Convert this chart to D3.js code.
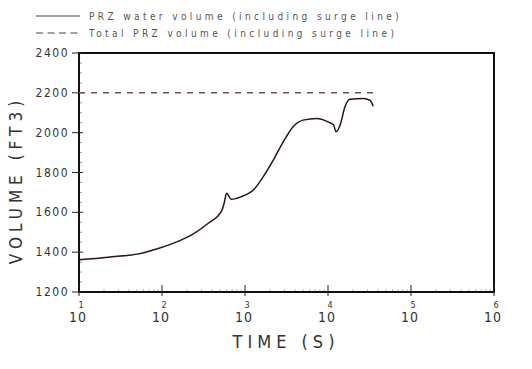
<!DOCTYPE html>
<html>
<head>
<meta charset="utf-8">
<script src="https://cdn.jsdelivr.net/npm/d3@7"></script>
<style>
  body { margin: 0; background: #fff; }
  svg { display: block; }
  text { font-family: "DejaVu Sans Condensed", "Liberation Sans Narrow", sans-serif; fill: #333; }
</style>
</head>
<body>
<figure id="chart" style="margin:0"></figure>
<script>
// PRZ water volume (solid)
const timeS = [10, 22.5, 57, 90, 143, 228, 361, 525, 560, 600, 680, 910, 1260, 1660, 2190, 2900, 3800, 5000, 7300, 10000, 11700, 12500, 14000, 16000, 18400, 26600, 32000, 35000];
const waterVol = [1362, 1375, 1395, 1418, 1448, 1487, 1545, 1609, 1645, 1696, 1666, 1679, 1712, 1779, 1862, 1955, 2030, 2063, 2071, 2054, 2038, 2004, 2038, 2130, 2168, 2171, 2163, 2133];
// total PRZ volume (dashed)
const totalTime = [10, 35000];
const totalVol = [2200, 2200];

const yTicks = [1200, 1400, 1600, 1800, 2000, 2200, 2400];
const xExps = [1, 2, 3, 4, 5, 6];
const legendLabels = ["PRZ water volume (including surge line)", "Total PRZ volume (including surge line)"];

const width = 532, height = 369;
const mLeft = 79, mRight = 494, mTop = 53, mBottom = 292;

const svg = d3.select("figure#chart")
  .append("svg")
  .attr("width", width)
  .attr("height", height);

const x = d3.scaleLog().domain([10, 1e6]).range([mLeft, mRight]);
const y = d3.scaleLinear().domain([1200, 2400]).range([mBottom, mTop]);

// minor ticks
const yMinor = d3.range(1200, 2401, 50).filter(v => v % 200 !== 0);
svg.append("g").selectAll("line").data(yMinor).enter().append("line")
  .attr("x1", mLeft).attr("x2", mLeft + 3)
  .attr("y1", d => y(d)).attr("y2", d => y(d))
  .attr("stroke", "#999").attr("stroke-width", 1);

const xMinor = [];
for (let e = 1; e < 6; e++) for (let m = 2; m <= 9; m++) xMinor.push(m * Math.pow(10, e));
svg.append("g").selectAll("line").data(xMinor).enter().append("line")
  .attr("x1", d => x(d)).attr("x2", d => x(d))
  .attr("y1", mBottom).attr("y2", mBottom - 3)
  .attr("stroke", "#bbb").attr("stroke-width", 1);

// frame
svg.append("rect")
  .attr("x", mLeft).attr("y", mTop)
  .attr("width", mRight - mLeft).attr("height", mBottom - mTop)
  .attr("fill", "none").attr("stroke", "#111").attr("stroke-width", 2);

// y major ticks + labels
const yAxis = svg.append("g");
yAxis.selectAll("line").data(yTicks).enter().append("line")
  .attr("x1", mLeft - 7).attr("x2", mLeft + 4)
  .attr("y1", d => y(d)).attr("y2", d => y(d))
  .attr("stroke", "#222").attr("stroke-width", 1);
yAxis.selectAll("text").data(yTicks).enter().append("text")
  .attr("x", mLeft - 10).attr("y", d => y(d) + 4)
  .attr("text-anchor", "end")
  .style("font-size", "12px").style("letter-spacing", "1.5px")
  .text(d => d);

// x major ticks + labels
const xAxis = svg.append("g");
xAxis.selectAll("line").data(xExps).enter().append("line")
  .attr("x1", d => x(Math.pow(10, d))).attr("x2", d => x(Math.pow(10, d)))
  .attr("y1", mBottom - 7).attr("y2", mBottom + 4)
  .attr("stroke", "#222").attr("stroke-width", 1);
xAxis.selectAll("text.base").data(xExps).enter().append("text")
  .attr("class", "base")
  .attr("x", d => x(Math.pow(10, d)) - 1).attr("y", 322)
  .attr("text-anchor", "middle")
  .style("font-size", "14px").style("letter-spacing", "1px")
  .text("10");
xAxis.selectAll("text.exp").data(xExps).enter().append("text")
  .attr("class", "exp")
  .attr("x", d => x(Math.pow(10, d)) + 2).attr("y", 308)
  .attr("text-anchor", "middle")
  .style("font-size", "9px")
  .text(d => d);

// axis titles
svg.append("text")
  .attr("x", 286).attr("y", 348)
  .attr("text-anchor", "middle")
  .style("font-size", "18px").style("letter-spacing", "5px")
  .text("TIME  (S)");

svg.append("text")
  .attr("transform", "translate(22,180) rotate(-90)")
  .attr("text-anchor", "middle")
  .style("font-size", "17px").style("letter-spacing", "5px")
  .text("VOLUME  (FT3)");

// lines
const line = d3.line().x(d => x(d[0])).y(d => y(d[1])).curve(d3.curveMonotoneX);

svg.append("path")
  .datum(totalTime.map((t, i) => [t, totalVol[i]]))
  .attr("d", line)
  .attr("fill", "none").attr("stroke", "#6b5050").attr("stroke-width", 1.5)
  .attr("stroke-dasharray", "6,6");

svg.append("path")
  .datum(timeS.map((t, i) => [t, waterVol[i]]))
  .attr("d", line)
  .attr("fill", "none").attr("stroke", "#2a1515").attr("stroke-width", 1.5);

// legend
const legend = svg.append("g");
legendLabels.forEach((lab, i) => {
  const ly = 16 + i * 17;
  legend.append("line")
    .attr("x1", 36).attr("x2", 80).attr("y1", ly).attr("y2", ly)
    .attr("stroke", "#444").attr("stroke-width", 1)
    .attr("stroke-dasharray", i === 1 ? "7,4.5" : null);
  legend.append("text")
    .attr("x", 89).attr("y", ly + 4)
    .style("font-size", "10px").style("letter-spacing", "3.4px").style("fill", "#555")
    .text(lab);
});
</script>
</body>
</html>
